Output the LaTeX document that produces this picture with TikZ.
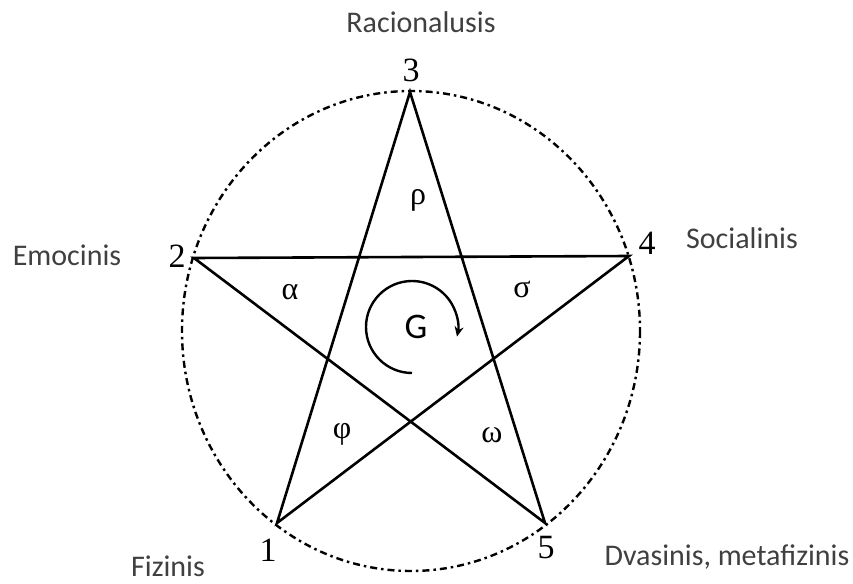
\documentclass[tikz,border=0pt]{standalone}
\usepackage{fontspec}
\setmainfont{Liberation Serif}
\newfontfamily\labfont{Carlito}
\usetikzlibrary{arrows.meta}
\tikzset{
  starline/.style={line width=2.6pt, line join=miter},
  ring/.style={line width=2.4pt, dash pattern=on 7pt off 4pt on 2.5pt off 4pt},
  sidelabel/.style={font=\labfont\fontsize{30}{34}\selectfont, text=black!75, inner sep=0pt},
  numlabel/.style={font=\fontsize{34}{38}\selectfont, inner sep=0pt},
  greek/.style={font=\fontsize{32}{36}\selectfont, inner sep=0pt},
}
\begin{document}
\begin{tikzpicture}[x=1pt,y=-1pt]
\useasboundingbox (0,0) rectangle (853,583);
% vertices
\coordinate (v3) at (410,92);
\coordinate (v2) at (194,258);
\coordinate (v4) at (629,256);
\coordinate (v1) at (277,523);
\coordinate (v5) at (545,523);
\coordinate (ctr) at (411,331);
% dashed circle
\draw[ring] (ctr) ellipse [x radius=229, y radius=240];
% star
\draw[starline] (v1) -- (v3) -- (v5) -- (v2) -- (v4) -- cycle;
% numbers
\node[numlabel] (n3) at (411,70) {3};
\node[numlabel] (n2) at (177,256) {2};
\node[numlabel] (n4) at (647,243) {4};
\node[numlabel] (n1) at (268,550) {1};
\node[numlabel] (n5) at (546,548) {5};
% side labels
\node[sidelabel] (l3) at (421,22) {Racionalusis};
\node[sidelabel] (l2) at (67,255) {Emocinis};
\node[sidelabel] (l4) at (742,238) {Socialinis};
\node[sidelabel] (l1) at (168,566) {Fizinis};
\node[sidelabel] (l5) at (727,557) {Dvasinis, metafizinis};
% greek letters
\node[greek] (rho) at (418,200) {ρ};
\node[greek] (alpha) at (290,292) {α};
\node[greek] (sigma) at (522,289) {σ};
\node[greek] (phi) at (342,434) {φ};
\node[greek] (omega) at (492,435) {ω};
% G with circular arrow
\node[font=\labfont\fontsize{36}{40}\selectfont, inner sep=0pt] (G) at (416,327) {G};
\coordinate (arcstart) at (412,373);
\draw[line width=2.4pt, -{Stealth[length=10pt,width=9pt]}] (arcstart) arc[start angle=90, end angle=372, radius=46];
\end{tikzpicture}
\end{document}
